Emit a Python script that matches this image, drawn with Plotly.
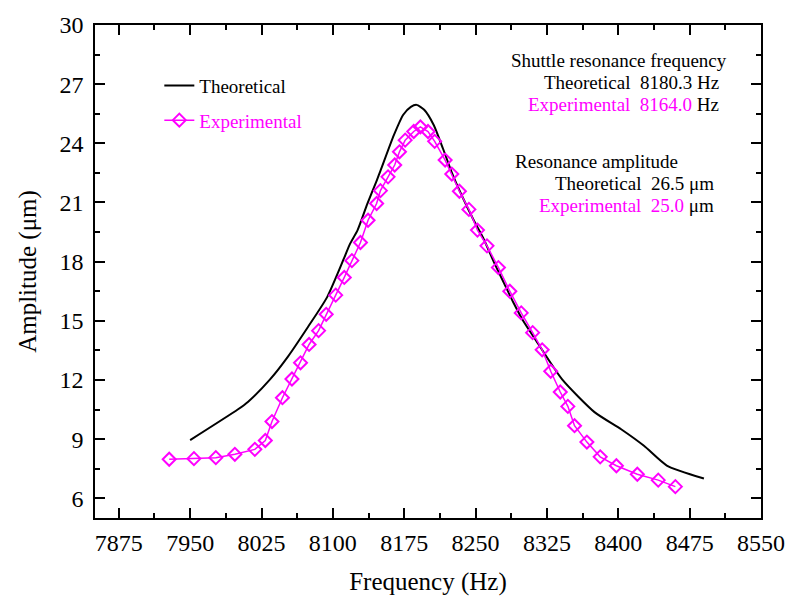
import plotly.graph_objects as go

# ---- data ----
theo_freq = [7950, 8000, 8011, 8034, 8053, 8074, 8094, 8112, 8118, 8126, 8136, 8146, 8150,
             8164, 8174, 8182, 8188, 8196, 8206, 8216, 8226, 8237, 8247, 8258, 8270, 8280,
             8290, 8300, 8313, 8341, 8375, 8403, 8427, 8451, 8490]
theo_amp = [8.95, 10.5, 10.9, 12.03, 13.2, 14.7, 16.2, 18.2, 18.9, 19.6, 20.9, 22.1, 22.6,
            24.4, 25.45, 25.85, 25.95, 25.7, 24.93, 23.7, 22.4, 21.2, 20.2, 19.2, 17.9, 16.9,
            15.9, 15.0, 14.04, 12.03, 10.37, 9.5, 8.66, 7.66, 7.0]

exp_freq = [7928, 7954, 7977, 7997, 8018, 8029, 8036, 8047, 8057, 8066, 8075, 8085, 8093,
            8103, 8112, 8120, 8129, 8137, 8146, 8150, 8158, 8165, 8170, 8176, 8185, 8192,
            8200, 8207, 8218, 8225, 8233, 8243, 8252, 8262, 8274, 8286, 8298, 8310, 8320,
            8329, 8339, 8347, 8354, 8367, 8381, 8398, 8420, 8442, 8460]
exp_amp = [7.98, 8.01, 8.06, 8.23, 8.48, 8.93, 9.89, 11.1, 12.05, 12.87, 13.8, 14.5, 15.33,
           16.3, 17.2, 18.05, 18.97, 20.1, 20.95, 21.6, 22.3, 22.9, 23.57, 24.16, 24.6, 24.83,
           24.6, 24.1, 23.15, 22.44, 21.57, 20.65, 19.6, 18.8, 17.7, 16.5, 15.4, 14.4, 13.53,
           12.44, 11.39, 10.66, 9.68, 8.85, 8.10, 7.65, 7.22, 6.92, 6.59]

theo_res_freq = "8180.3"
exp_res_freq = "8164.0"
theo_res_amp = "26.5"
exp_res_amp = "25.0"

MAG = "#FF00FF"
FONT = "Liberation Serif"

fig = go.Figure()
fig.add_trace(go.Scatter(
    x=theo_freq, y=theo_amp, mode="lines", name="Theoretical",
    line=dict(color="black", width=2, shape="spline", smoothing=0.6), legendgroup="a"))
fig.add_trace(go.Scatter(
    x=exp_freq, y=exp_amp, mode="lines+markers",
    name="<span style='color:#FF00FF'>Experimental</span>",
    line=dict(color=MAG, width=1.5),
    marker=dict(symbol="diamond-open", size=10, color=MAG, line=dict(color=MAG, width=2)),
    legendgroup="b"))

W, H = 797, 603
L, R, T, B = 95, 29, 22, 83
pw, ph = W - L - R, H - T - B

def px(x):
    return (x - L) / pw

def py(y):
    return (H - B - y) / ph

axis_common = dict(
    showline=True, linecolor="black", linewidth=1.5, mirror="ticks",
    ticks="inside", ticklen=10, tickwidth=1.5, tickcolor="black",
    showgrid=False, zeroline=False,
    tickfont=dict(family=FONT, size=24, color="black"),
)

fig.update_xaxes(
    range=[7850, 8550], tick0=7875, dtick=75, ticklabelstandoff=2,
    minor=dict(dtick=37.5, ticks="inside", ticklen=5, tickwidth=1.5, tickcolor="black"),
    title=dict(text="Frequency (Hz)", font=dict(family=FONT, size=25, color="black"), standoff=18),
    **axis_common)
fig.update_yaxes(
    range=[5, 30], tick0=6, dtick=3, ticklabelstandoff=5,
    minor=dict(dtick=1.5, ticks="inside", ticklen=5, tickwidth=1.5, tickcolor="black"),
    title=dict(text="Amplitude (μm)", font=dict(family=FONT, size=25, color="black"), standoff=16),
    **axis_common)

ann_font = dict(family=FONT, size=19, color="black")
gap = "&nbsp;&nbsp;"
annotations = [
    dict(x=px(513), y=py(58), xanchor="left", yanchor="middle",
         text="Shuttle resonance frequency"),
    dict(x=px(728), y=py(80), xanchor="right", yanchor="middle",
         text=f"Theoretical{gap}{theo_res_freq} Hz"),
    dict(x=px(728), y=py(102), xanchor="right", yanchor="middle",
         text=f"<span style='color:{MAG}'>Experimental{gap}{exp_res_freq}</span> Hz"),
    dict(x=px(517), y=py(160), xanchor="left", yanchor="middle",
         text="Resonance amplitude"),
    dict(x=px(723), y=py(182), xanchor="right", yanchor="middle",
         text=f"Theoretical{gap}{theo_res_amp} μm"),
    dict(x=px(723), y=py(204), xanchor="right", yanchor="middle",
         text=f"<span style='color:{MAG}'>Experimental{gap}{exp_res_amp}</span> μm"),
]
for a in annotations:
    a.update(xref="paper", yref="paper", showarrow=False, font=ann_font)

fig.update_layout(
    width=W, height=H,
    margin=dict(l=L, r=R, t=T, b=B, pad=0),
    plot_bgcolor="white", paper_bgcolor="white",
    font=dict(family=FONT, color="black"),
    showlegend=True,
    legend=dict(x=px(160), y=py(64), xanchor="left", yanchor="top",
                font=dict(family=FONT, size=19, color="black"),
                bgcolor="rgba(0,0,0,0)", traceorder="grouped", tracegroupgap=7),
    annotations=annotations,
)

fig.write_html("out.html")
